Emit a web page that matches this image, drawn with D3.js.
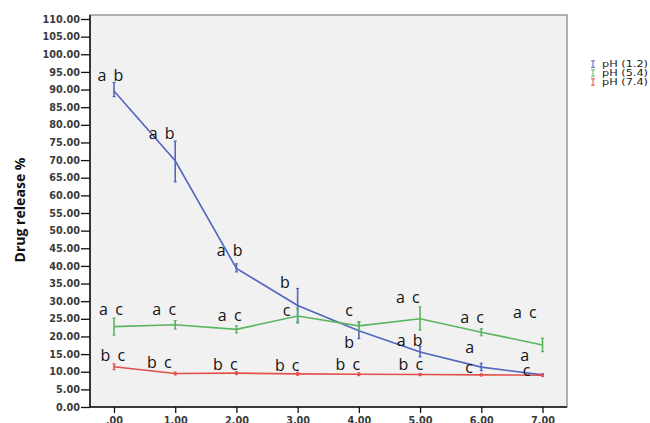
<!DOCTYPE html>
<html>
<head>
<meta charset="utf-8">
<script src="https://cdn.jsdelivr.net/npm/d3@7"></script>
<style>
  body { margin: 0; background: #fff; }
  svg { display: block; }
</style>
</head>
<body>
<svg id="chart" width="650" height="423"></svg>
<script>
// Time points (hours)
const hours = [0, 1, 2, 3, 4, 5, 6, 7];
const xTickLabels = [".00", "1.00", "2.00", "3.00", "4.00", "5.00", "6.00", "7.00"];
const yTicks = d3.range(0, 110.01, 5);

// Mean drug release (%) and error bar limits per medium
const ph12Mean  = [89.6, 69.8, 39.3, 28.8, 21.6, 15.6, 11.3, 9.1];
const ph12Low   = [88.0, 63.8, 38.3, 24.0, 19.4, 14.2, 10.3, 8.8];
const ph12High  = [92.0, 75.4, 40.6, 33.6, 24.0, 17.1, 12.4, 9.4];

const ph54Mean  = [22.8, 23.3, 22.0, 25.8, 23.0, 25.0, 21.2, 17.6];
const ph54Low   = [20.4, 22.1, 21.0, 23.8, 21.7, 21.8, 20.2, 15.7];
const ph54High  = [25.2, 24.5, 23.0, 27.8, 24.2, 28.4, 22.2, 19.5];

const ph74Mean  = [11.4, 9.5, 9.6, 9.4, 9.3, 9.2, 9.1, 9.0];
const ph74Low   = [10.6, 9.1, 9.2, 9.0, 8.9, 8.9, 8.8, 8.7];
const ph74High  = [12.2, 9.9, 10.0, 9.8, 9.7, 9.5, 9.4, 9.3];

const seriesNames = ["pH (1.2)", "pH (5.4)", "pH (7.4)"];
const seriesColors = ["#5266bf", "#5ab55f", "#e2504b"];

// Significance letters: [hour, percent, text]
const letters = [
  [-0.06, 94.1, "a b"], [0.78, 77.7, "a b"], [1.89, 44.5, "a b"], [2.79, 35.2, "b"],
  [3.84, 18.4, "b"], [4.83, 19.0, "a b"], [5.81, 17.0, "a"], [6.71, 14.5, "a"],
  [5.80, 11.3, "c"], [6.74, 10.5, "c"],
  [-0.05, 27.8, "a c"], [0.82, 27.8, "a c"], [1.89, 26.1, "a c"], [2.82, 27.5, "c"],
  [3.84, 27.3, "c"], [4.80, 31.2, "a c"], [5.85, 25.5, "a c"], [6.71, 26.9, "a c"],
  [-0.02, 14.5, "b c"], [0.74, 12.7, "b c"], [1.82, 12.2, "b c"], [2.83, 11.7, "b c"],
  [3.82, 12.2, "b c"], [4.85, 12.2, "b c"]
];

const series = [
  { mean: ph12Mean, low: ph12Low, high: ph12High },
  { mean: ph54Mean, low: ph54Low, high: ph54High },
  { mean: ph74Mean, low: ph74Low, high: ph74High }
];

const svg = d3.select("#chart");
const frame = { left: 90, right: 567, top: 15, bottom: 407 };

const x = d3.scaleLinear().domain([0, 7]).range([114, 542.5]);
const y = d3.scaleLinear().domain([0, 110]).range([frame.bottom, 19]);

const tickFont = "'DejaVu Sans', sans-serif";

// Plot area background and border
svg.append("rect")
  .attr("x", frame.left).attr("y", frame.top)
  .attr("width", frame.right - frame.left).attr("height", frame.bottom - frame.top)
  .attr("fill", "#f1f1f1").attr("stroke", "#8a8a8a").attr("stroke-width", 1.3);

// Y axis
const yAxis = svg.append("g")
  .attr("transform", `translate(${frame.left},0)`)
  .call(d3.axisLeft(y).tickValues(yTicks).tickFormat(d3.format(".2f")).tickSizeOuter(0).tickSize(9));
yAxis.select(".domain").attr("stroke", "#111").attr("stroke-width", 1.5)
  .attr("d", `M0,${frame.top}V${frame.bottom}`);
yAxis.selectAll(".tick line").attr("stroke", "#111").attr("stroke-width", 1.3);
yAxis.selectAll(".tick text")
  .attr("x", -10)
  .attr("fill", "#3a3a3a")
  .style("font-family", tickFont)
  .style("font-weight", "bold")
  .style("font-size", "9.7px");

// X axis
const xAxis = svg.append("g")
  .attr("transform", `translate(0,${frame.bottom})`)
  .call(d3.axisBottom(x).tickValues(hours).tickFormat((d, i) => xTickLabels[i]).tickSizeOuter(0).tickSize(6));
xAxis.select(".domain").attr("stroke", "#111").attr("stroke-width", 1.5)
  .attr("d", `M${frame.left},0H${frame.right}`);
xAxis.selectAll(".tick line").attr("stroke", "#111").attr("stroke-width", 1.3);
xAxis.selectAll(".tick text")
  .attr("y", 10)
  .attr("fill", "#3a3a3a")
  .style("font-family", tickFont)
  .style("font-weight", "bold")
  .style("font-size", "9.7px");

// Y axis title
svg.append("text")
  .attr("transform", `translate(25,210) rotate(-90)`)
  .attr("text-anchor", "middle")
  .attr("textLength", 105)
  .attr("lengthAdjust", "spacingAndGlyphs")
  .style("font-family", "'Open Sans', sans-serif")
  .style("font-weight", "bold")
  .style("font-size", "14px")
  .attr("fill", "#111")
  .text("Drug release %");

// Lines and error bars
const line = d3.line().x((d, i) => x(hours[i])).y(d => y(d));
series.forEach((s, k) => {
  const g = svg.append("g");
  g.append("path")
    .attr("d", line(s.mean))
    .attr("fill", "none")
    .attr("stroke", seriesColors[k])
    .attr("stroke-width", 1.6);
  hours.forEach((h, i) => {
    const cx = x(h);
    g.append("line")
      .attr("x1", cx).attr("x2", cx)
      .attr("y1", y(s.low[i])).attr("y2", y(s.high[i]))
      .attr("stroke", seriesColors[k]).attr("stroke-width", 1.6);
    [s.low[i], s.high[i]].forEach(v => {
      g.append("line")
        .attr("x1", cx - 1.5).attr("x2", cx + 1.5)
        .attr("y1", y(v)).attr("y2", y(v))
        .attr("stroke", seriesColors[k]).attr("stroke-width", 1.2);
    });
  });
});

// Significance letters
svg.append("g").selectAll("text")
  .data(letters)
  .join("text")
  .attr("x", d => x(d[0]))
  .attr("y", d => y(d[1]))
  .attr("dy", "0.35em")
  .attr("text-anchor", "middle")
  .style("font-family", "'Open Sans', sans-serif")
  .style("font-size", "16px")
  .style("word-spacing", "3px")
  .attr("fill", "#111")
  .text(d => d[2]);

// Legend
const legend = svg.append("g").attr("transform", "translate(593,64)");
seriesNames.forEach((name, k) => {
  const gy = k * 9;
  const c = seriesColors[k];
  legend.append("path")
    .attr("d", `M-2,${gy - 3.2}H2M0,${gy - 3.2}V${gy + 3.2}M-2,${gy + 3.2}H2`)
    .attr("stroke", c).attr("stroke-width", 1).attr("fill", "none");
  legend.append("text")
    .attr("x", 9).attr("y", gy).attr("dy", "0.35em")
    .attr("textLength", 46)
    .attr("lengthAdjust", "spacingAndGlyphs")
    .style("font-family", tickFont)
    .style("font-size", "9px")
    .attr("fill", "#222")
    .text(name);
});
</script>
</body>
</html>
